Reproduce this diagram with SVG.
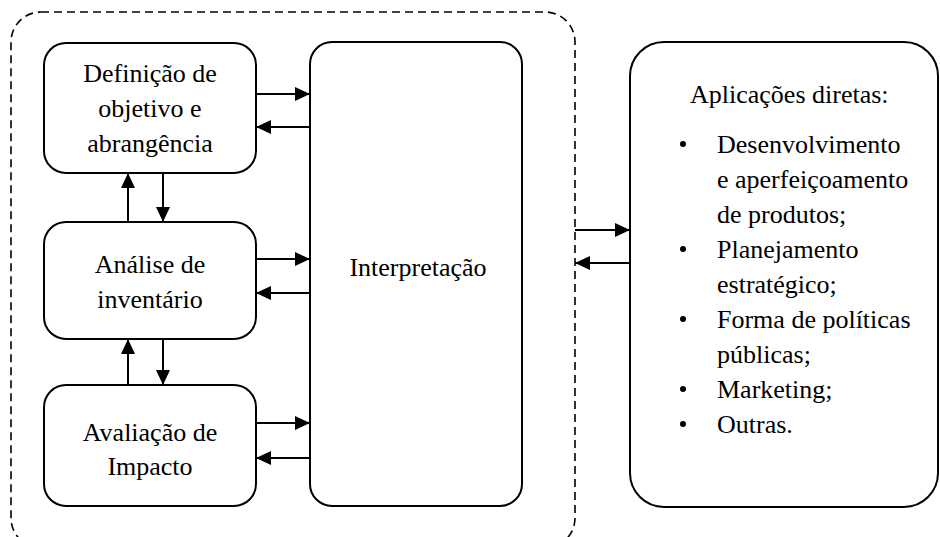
<svg xmlns="http://www.w3.org/2000/svg" width="940" height="537" viewBox="0 0 940 537">
<defs>
<style>
.box{fill:#fff;stroke:#000;stroke-width:2}
.dash{fill:none;stroke:#000;stroke-width:1.6;stroke-dasharray:8 5}
text{font-family:'Liberation Serif','DejaVu Serif',serif;font-size:26px;fill:#000}
.c{text-anchor:middle}
.ln{stroke:#000;stroke-width:2;fill:none;marker-end:url(#ah)}
</style>
<marker id="ah" viewBox="0 0 15 14" refX="15" refY="7" markerWidth="15" markerHeight="14" markerUnits="userSpaceOnUse" orient="auto">
<path d="M0,0 L15,7 L0,14 Z" fill="#000"/>
</marker>
</defs>
<rect class="dash" x="11" y="12" width="564" height="536" rx="30" ry="30"/>
<g id="definicao">
<rect class="box" x="44" y="43" width="212" height="130" rx="22" ry="22"/>
<text class="c" x="150" y="82">Definição de</text>
<text class="c" x="150" y="117">objetivo e</text>
<text class="c" x="150" y="152">abrangência</text>
</g>
<g id="analise">
<rect class="box" x="44" y="222" width="212" height="117" rx="22" ry="22"/>
<text class="c" x="150" y="273">Análise de</text>
<text class="c" x="150" y="308">inventário</text>
</g>
<g id="avaliacao">
<rect class="box" x="44" y="385" width="212" height="121" rx="22" ry="22"/>
<text class="c" x="150" y="441">Avaliação de</text>
<text class="c" x="150" y="475">Impacto</text>
</g>
<g id="interpretacao">
<rect class="box" x="310" y="42" width="212" height="464" rx="22" ry="22"/>
<text class="c" x="418" y="276">Interpretação</text>
</g>
<g id="aplicacoes">
<rect class="box" x="630" y="42" width="308" height="465" rx="34" ry="34"/>
<text x="690" y="103">Aplicações diretas:</text>
<g fill="#000">
<circle cx="683" cy="144" r="3"/>
<circle cx="683" cy="249" r="3"/>
<circle cx="683" cy="319" r="3"/>
<circle cx="683" cy="389" r="3"/>
<circle cx="683" cy="424" r="3"/>
</g>
<text x="717" y="153">Desenvolvimento</text>
<text x="717" y="188">e aperfeiçoamento</text>
<text x="717" y="223">de produtos;</text>
<text x="717" y="258">Planejamento</text>
<text x="717" y="293">estratégico;</text>
<text x="717" y="328">Forma de políticas</text>
<text x="717" y="363">públicas;</text>
<text x="717" y="398">Marketing;</text>
<text x="717" y="433">Outras.</text>
</g>
<g id="connectors">
<line class="ln" x1="256" y1="94" x2="310" y2="94"/>
<line class="ln" x1="310" y1="127" x2="256" y2="127"/>
<line class="ln" x1="256" y1="259" x2="310" y2="259"/>
<line class="ln" x1="310" y1="293" x2="256" y2="293"/>
<line class="ln" x1="256" y1="423" x2="310" y2="423"/>
<line class="ln" x1="310" y1="458" x2="256" y2="458"/>
<line class="ln" x1="128" y1="222" x2="128" y2="173"/>
<line class="ln" x1="163" y1="173" x2="163" y2="222"/>
<line class="ln" x1="128" y1="385" x2="128" y2="339"/>
<line class="ln" x1="163" y1="339" x2="163" y2="385"/>
<line class="ln" x1="575" y1="230" x2="630" y2="230"/>
<line class="ln" x1="630" y1="263" x2="575" y2="263"/>
</g>
</svg>
